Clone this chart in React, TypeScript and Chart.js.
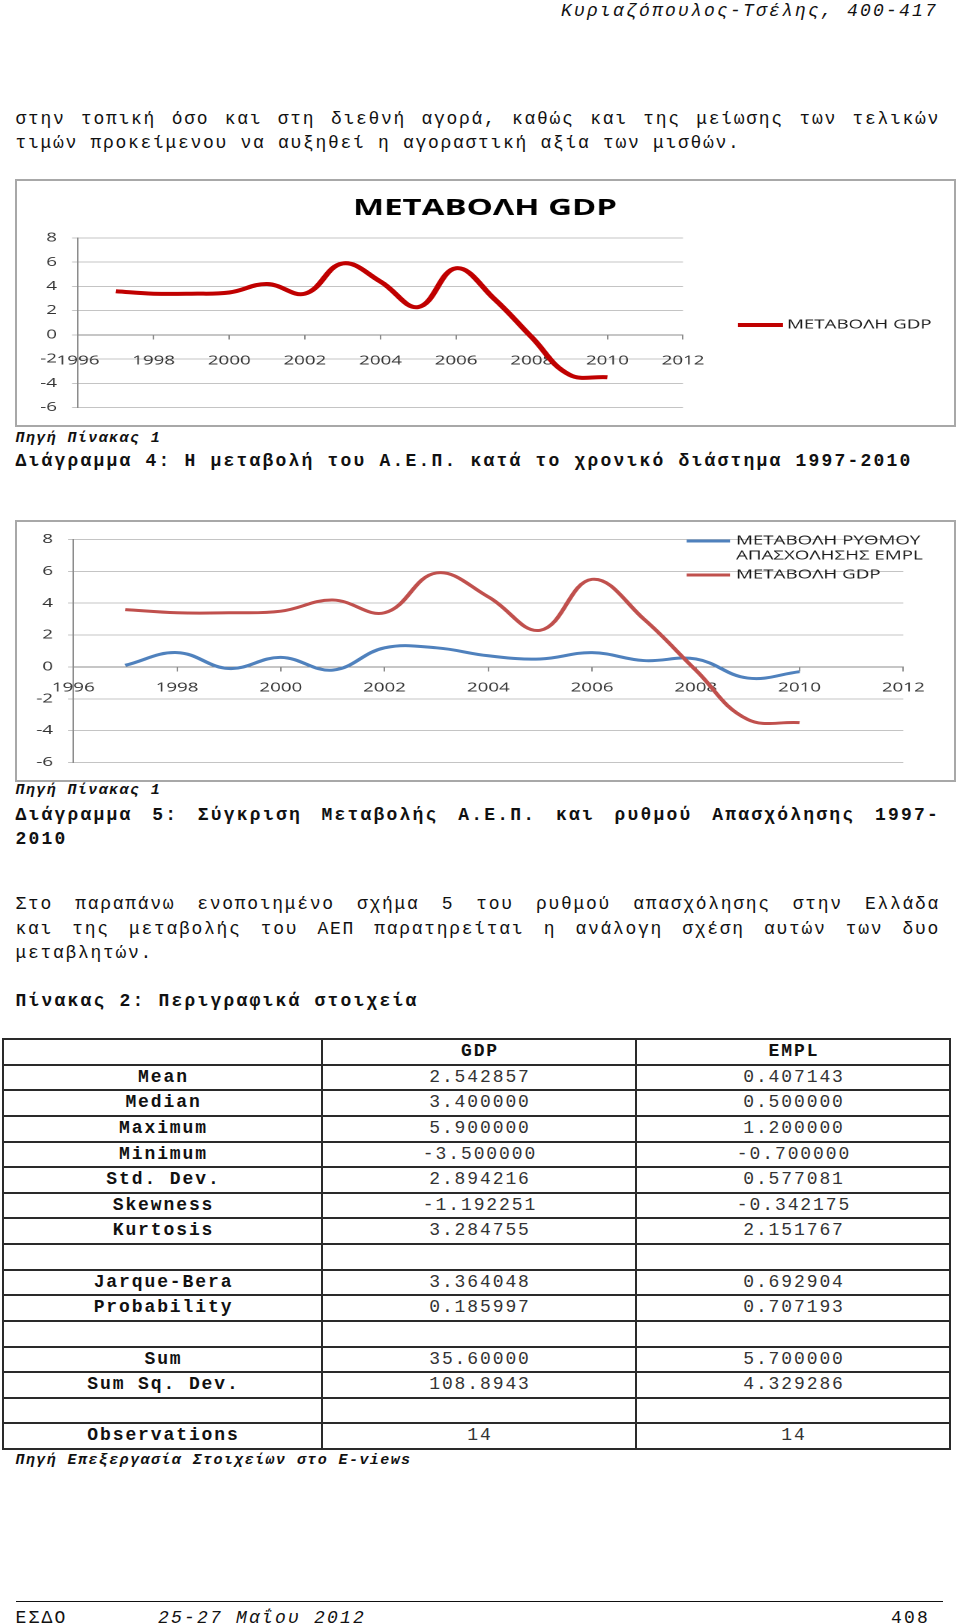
import React, { useEffect, useRef } from 'react';
import { Chart, registerables } from 'chart.js';

Chart.register(...registerables);

// ---------- data ----------
const years = [1997, 1998, 1999, 2000, 2001, 2002, 2003, 2004, 2005, 2006, 2007, 2008, 2009, 2010];
const gdpChange = [3.6, 3.4, 3.4, 3.5, 4.2, 3.4, 5.9, 4.4, 2.3, 5.5, 3.0, -0.2, -3.3, -3.5];
const emplChange = [0.1, 0.9, -0.1, 0.6, -0.2, 1.2, 1.2, 0.7, 0.5, 0.9, 0.4, 0.5, -0.7, -0.3];

const xMin = 1996;
const xMax = 2012;
const xStep = 2;
const yMin = -6;
const yMax = 8;
const yStep = 2;

const chart1Title = 'ΜΕΤΑΒΟΛΗ GDP';
const gdpLabel = 'ΜΕΤΑΒΟΛΗ GDP';
const emplLabelLines = ['ΜΕΤΑΒΟΛΗ ΡΥΘΜΟΥ', 'ΑΠΑΣΧΟΛΗΣΗΣ EMPL'];

const tableHeader = ['', 'GDP', 'EMPL'];
const statLabels = ['Mean', 'Median', 'Maximum', 'Minimum', 'Std. Dev.', 'Skewness', 'Kurtosis', '', 'Jarque-Bera', 'Probability', '', 'Sum', 'Sum Sq. Dev.', '', 'Observations'];
const gdpStats = ['2.542857', '3.400000', '5.900000', '-3.500000', '2.894216', '-1.192251', '3.284755', '', '3.364048', '0.185997', '', '35.60000', '108.8943', '', '14'];
const emplStats = ['0.407143', '0.500000', '1.200000', '-0.700000', '0.577081', '-0.342175', '2.151767', '', '0.692904', '0.707193', '', '5.700000', '4.329286', '', '14'];

// ---------- layout constants ----------
const LOGICAL_W = 625;
const INNER_W = 937;
const STRETCH = INNER_W / LOGICAL_W;
const CHART_FONT = '"Open Sans", "DejaVu Sans", sans-serif';
const MONO = '"Liberation Mono", "DejaVu Sans Mono", monospace';

type LegendEntry = { datasetIndex: number; lines: string[]; y: number };

interface ChartBoxProps {
  left: number;
  top: number;
  height: number;
  datasets: any[];
  yAxisWidth: number;
  padRight: number;
  padTop: number;
  padBottom: number;
  yTickLen: number;
  yPad: number;
  xTickLen: number;
  xPad: number;
  title?: { text: string; x: number; y: number };
  legend: { x1: number; x2: number; tx: number; lineGap: number; entries: LegendEntry[] };
}

function ChartBox(p: ChartBoxProps) {
  const ref = useRef<HTMLCanvasElement>(null);
  const innerH = p.height - 4;

  useEffect(() => {
    const overlay = {
      id: 'overlay',
      afterDraw(chart: any) {
        const ctx = chart.ctx;
        ctx.save();
        if (p.title) {
          ctx.font = `bold 22px ${CHART_FONT}`;
          ctx.fillStyle = '#000';
          ctx.textAlign = 'center';
          ctx.textBaseline = 'middle';
          ctx.fillText(p.title.text, p.title.x, p.title.y);
        }
        p.legend.entries.forEach((e) => {
          const ds = chart.data.datasets[e.datasetIndex];
          ctx.strokeStyle = ds.borderColor;
          ctx.lineWidth = ds.borderWidth;
          ctx.beginPath();
          ctx.moveTo(p.legend.x1, e.y);
          ctx.lineTo(p.legend.x2, e.y);
          ctx.stroke();
          ctx.font = `12.5px ${CHART_FONT}`;
          ctx.fillStyle = '#1a1a1a';
          ctx.textAlign = 'left';
          ctx.textBaseline = 'middle';
          e.lines.forEach((ln, k) => ctx.fillText(ln, p.legend.tx, e.y + k * p.legend.lineGap));
        });
        ctx.restore();
      },
    };

    const tickFont = { family: CHART_FONT, size: 12.5 };
    const chart = new Chart(ref.current as HTMLCanvasElement, {
      type: 'line',
      data: { datasets: p.datasets },
      options: {
        animation: false,
        responsive: false,
        devicePixelRatio: 2,
        events: [],
        layout: { padding: { left: 0, right: p.padRight, top: p.padTop, bottom: p.padBottom } },
        plugins: {
          legend: { display: false },
          title: { display: false },
          tooltip: { enabled: false },
        },
        scales: {
          x: {
            type: 'linear',
            min: xMin,
            max: xMax,
            position: { y: 0 } as any,
            ticks: {
              stepSize: xStep,
              autoSkip: false,
              maxRotation: 0,
              padding: p.xPad,
              color: '#333',
              font: tickFont,
              callback: (v: any) => String(v),
            },
            grid: { drawOnChartArea: false, drawTicks: true, tickLength: p.xTickLen, color: '#8c8c8c' },
            border: { display: true, color: '#8c8c8c', width: 1 },
          },
          y: {
            type: 'linear',
            min: yMin,
            max: yMax,
            position: 'left',
            ticks: {
              stepSize: yStep,
              padding: p.yPad,
              color: '#333',
              font: tickFont,
              callback: (v: any) => String(v),
            },
            grid: { color: '#c4c4c4', drawTicks: true, tickLength: p.yTickLen },
            border: { display: true, color: '#8c8c8c', width: 1 },
            afterFit: (s: any) => {
              s.width = p.yAxisWidth;
            },
          },
        },
      },
      plugins: [overlay],
    } as any);
    return () => chart.destroy();
  }, []);

  return (
    <div
      style={{
        position: 'absolute',
        left: p.left,
        top: p.top,
        width: INNER_W + 4,
        height: p.height,
        border: '2px solid #a8a8a8',
        boxSizing: 'border-box',
        background: '#fff',
        overflow: 'hidden',
      }}
    >
      <canvas
        ref={ref}
        width={LOGICAL_W}
        height={innerH}
        style={{
          position: 'absolute',
          left: 0,
          top: 0,
          width: `${LOGICAL_W}px`,
          height: `${innerH}px`,
          transform: `scaleX(${STRETCH})`,
          transformOrigin: '0 0',
        }}
      />
    </div>
  );
}

// ---------- text helper ----------
interface TProps {
  x: number;
  y: number;
  w?: number;
  children: React.ReactNode;
  bold?: boolean;
  italic?: boolean;
  size?: number;
  adv?: number; // advance per character
  lh?: number;
  justify?: boolean;
  color?: string;
}

function T({ x, y, w, children, bold, italic, size = 18, adv = 12.5, lh = 24, justify, color = '#111' }: TProps) {
  const ls = adv - size * 0.6;
  return (
    <div
      style={{
        position: 'absolute',
        left: x,
        top: y,
        width: w,
        fontFamily: MONO,
        fontSize: size,
        lineHeight: `${lh}px`,
        letterSpacing: `${ls}px`,
        fontWeight: bold ? 'bold' : 'normal',
        fontStyle: italic ? 'italic' : 'normal',
        whiteSpace: 'nowrap',
        textAlign: justify ? 'justify' : 'left',
        textAlignLast: justify ? 'justify' : 'auto',
        color,
      } as React.CSSProperties}
    >
      {children}
    </div>
  );
}

// ---------- table ----------
const tableTop = 1039;
const rowH = 25.625;
const colX = [3, 322, 636, 950];

function StatsTable() {
  const rows = [tableHeader, ...statLabels.map((l, i) => [l, gdpStats[i], emplStats[i]])];
  const items: React.ReactNode[] = [];
  for (let i = 0; i <= rows.length; i++) {
    items.push(
      <div key={`h${i}`} style={{ position: 'absolute', left: colX[0] - 1, top: tableTop + i * rowH - 1, width: colX[3] - colX[0] + 2, height: 2, background: '#2a2a2a' }} />
    );
  }
  colX.forEach((x, i) => {
    items.push(
      <div key={`v${i}`} style={{ position: 'absolute', left: x - 1, top: tableTop - 1, width: 2, height: rows.length * rowH + 2, background: '#2a2a2a' }} />
    );
  });
  rows.forEach((r, ri) => {
    r.forEach((cell, ci) => {
      if (!cell) return;
      const bold = ri === 0 || ci === 0;
      items.push(
        <div
          key={`c${ri}-${ci}`}
          style={{
            position: 'absolute',
            left: colX[ci],
            top: tableTop + ri * rowH,
            width: colX[ci + 1] - colX[ci],
            height: rowH,
            lineHeight: `${rowH}px`,
            textAlign: 'center',
            fontFamily: MONO,
            fontSize: 18,
            letterSpacing: `${12.7 - 10.8}px`,
            paddingLeft: 2,
            boxSizing: 'border-box',
            fontWeight: bold ? 'bold' : 'normal',
            color: bold ? '#111' : '#333',
            whiteSpace: 'nowrap',
          }}
        >
          {cell}
        </div>
      );
    });
  });
  return <>{items}</>;
}

export default function App() {
  const gdpPoints = years.map((x, i) => ({ x, y: gdpChange[i] }));
  const emplPoints = years.map((x, i) => ({ x, y: emplChange[i] }));

  const chart1Datasets = [
    { label: gdpLabel, data: gdpPoints, borderColor: '#c00000', borderWidth: 4, tension: 0.4, pointRadius: 0, fill: false },
  ];
  const chart2Datasets = [
    { label: emplLabelLines.join(' '), data: emplPoints, borderColor: '#4f81bd', borderWidth: 3, tension: 0.4, pointRadius: 0, fill: false, order: 1 },
    { label: gdpLabel, data: gdpPoints, borderColor: '#c0504d', borderWidth: 3, tension: 0.4, pointRadius: 0, fill: false, order: 0 },
  ];

  const L = 15.5;
  const JW = 938 - L + 2;

  return (
    <div style={{ position: 'absolute', left: 0, top: 0, width: 960, height: 1624, background: '#fff', overflow: 'hidden' }}>
      <T x={561} y={-1.5} italic adv={13.0}>Κυριαζόπουλος-Τσέλης, 400-417</T>

      <T x={L} y={107} w={JW} justify>στην τοπική όσο και στη διεθνή αγορά, καθώς και της μείωσης των τελικών</T>
      <T x={L} y={131}>τιμών προκείμενου να αυξηθεί η αγοραστική αξία των μισθών.</T>

      <ChartBox
        left={15}
        top={179}
        height={248}
        datasets={chart1Datasets}
        yAxisWidth={(78 - 17) / STRETCH}
        padRight={LOGICAL_W - (683 - 17) / STRETCH}
        padTop={57}
        padBottom={13}
        yTickLen={4}
        yPad={10}
        xTickLen={4}
        xPad={14.5}
        title={{ text: chart1Title, x: (485 - 17) / STRETCH, y: 27.5 }}
        legend={{
          x1: (738 - 17) / STRETCH,
          x2: (783 - 17) / STRETCH,
          tx: (787 - 17) / STRETCH,
          lineGap: 14.7,
          entries: [{ datasetIndex: 0, lines: [gdpLabel], y: 144 }],
        }}
      />

      <T x={L} y={428.5} size={15} adv={10.4} lh={20} bold italic>Πηγή Πίνακας 1</T>
      <T x={L} y={449} bold adv={13.0}>Διάγραμμα 4: Η μεταβολή του Α.Ε.Π. κατά το χρονικό διάστημα 1997-2010</T>

      <ChartBox
        left={15}
        top={520}
        height={262}
        datasets={chart2Datasets}
        yAxisWidth={(73.3 - 17) / STRETCH}
        padRight={LOGICAL_W - (903.3 - 17) / STRETCH}
        padTop={11.3}
        padBottom={10.7}
        yTickLen={3.5}
        yPad={10}
        xTickLen={4}
        xPad={9.5}
        legend={{
          x1: (686.7 - 17) / STRETCH,
          x2: (730 - 17) / STRETCH,
          tx: (736 - 17) / STRETCH,
          lineGap: 14.7,
          entries: [
            { datasetIndex: 0, lines: emplLabelLines, y: 19 },
            { datasetIndex: 1, lines: [gdpLabel], y: 53 },
          ],
        }}
      />

      <T x={L} y={781} size={15} adv={10.4} lh={20} bold italic>Πηγή Πίνακας 1</T>
      <T x={L} y={803} w={JW} justify bold adv={13.0}>Διάγραμμα 5: Σύγκριση Μεταβολής Α.Ε.Π. και ρυθμού Απασχόλησης 1997-</T>
      <T x={L} y={827} bold adv={13.0}>2010</T>

      <T x={L} y={892} w={JW} justify>Στο παραπάνω ενοποιημένο σχήμα 5 του ρυθμού απασχόλησης στην Ελλάδα</T>
      <T x={L} y={917} w={JW} justify>και της μεταβολής του ΑΕΠ παρατηρείται η ανάλογη σχέση αυτών των δυο</T>
      <T x={L} y={941}>μεταβλητών.</T>

      <T x={L} y={989} bold adv={13.0}>Πίνακας 2: Περιγραφικά στοιχεία</T>

      <StatsTable />

      <T x={L} y={1450.5} size={15} adv={10.42} lh={20} bold italic>Πηγή Επεξεργασία Στοιχείων στο E-views</T>

      <div style={{ position: 'absolute', left: 15.5, top: 1600.5, width: 927, height: 1.5, background: '#111' }} />
      <T x={L} y={1605.5} adv={13.0}>ΕΣΔΟ</T>
      <T x={158} y={1605.5} italic adv={13.0}>25-27 Μαΐου 2012</T>
      <T x={891} y={1605.5} adv={13.0}>408</T>
    </div>
  );
}
